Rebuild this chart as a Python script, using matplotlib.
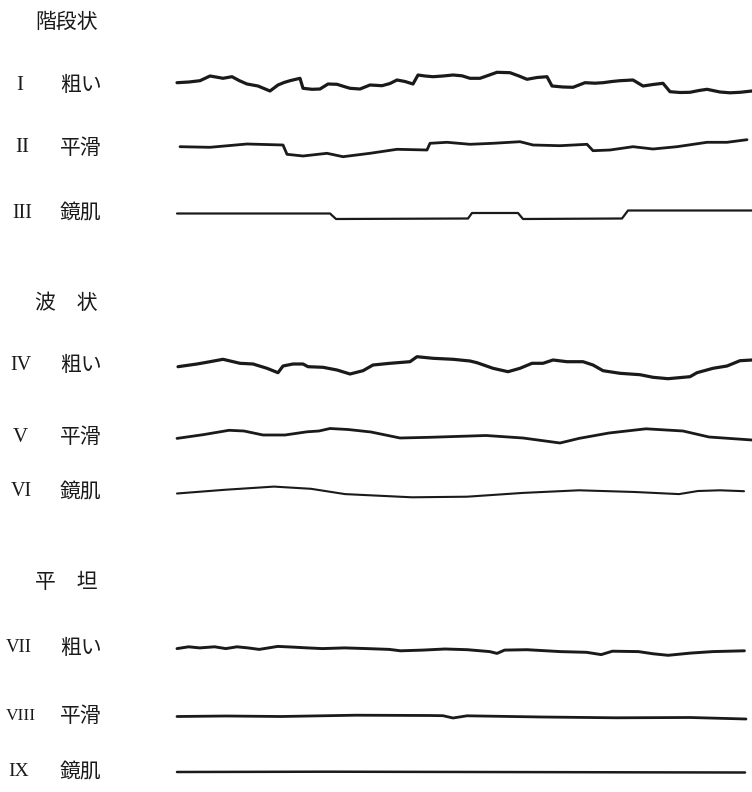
import matplotlib
matplotlib.use("Agg")
import matplotlib.pyplot as plt

# ---------------- data ----------------
group_titles = ["階段状", "波　状", "平　坦"]
roman_labels = ["I", "II", "III", "IV", "V", "VI", "VII", "VIII", "IX"]
surface_labels = ["粗い", "平滑", "鏡肌"] * 3

# profile distance along the trace (units) and height (units, up positive)
p1_x = [0, 12, 23, 33, 40, 46, 55, 62, 70, 81, 87, 93, 101, 107, 113, 123, 126, 135, 143, 151, 160, 167, 173, 183,
        193, 205, 213, 220, 228, 236, 241, 248, 256, 266, 276, 285, 293, 303, 311, 320, 333, 342, 350, 360, 370, 375,
        386, 396, 408, 418, 426, 435, 443, 456, 466, 476, 486, 493, 503, 513, 522, 530, 543, 553, 563, 575]
p1_y = [2.3, 3.0, 4.3, 9.0, 7.8, 6.7, 8.3, 4.5, 1.0, -1.0, -3.5, -6.0, 0.0, 2.5, 4.3, 6.7, -3.3, -4.3, -4.0, 1.0,
        0.7, -1.5, -3.3, -4.0, 0.0, -0.7, 1.5, 5.0, 3.5, 1.0, 10.0, 9.0, 8.3, 9.0, 10.0, 9.2, 6.7, 6.7, 9.5, 12.7, 12.3,
        9.0, 5.7, 7.5, 8.3, -1.0, -2.0, -2.3, 2.3, 1.8, 2.3, 3.5, 4.3, 5.0, -1.0, 0.5, 1.7, -6.7, -7.5, -7.3, -5.5,
        -4.3, -7.0, -7.8, -7.3, -6.0]

p2_x = [3, 33, 70, 106, 110, 126, 150, 166, 193, 220, 250, 253, 270, 293, 316, 343, 356, 383, 410, 416, 433, 456,
        476, 500, 530, 550, 570]
p2_y = [1.3, 0.7, 4.0, 3.0, -6.3, -8.0, -5.3, -8.7, -5.3, -1.3, -2.0, 4.7, 5.7, 3.7, 4.7, 6.3, 3.0, 2.3, 3.7, -2.7,
        -2.0, 1.3, -1.0, 1.3, 5.7, 5.7, 8.3]

p3_x = [0, 153, 159, 291, 295, 341, 346, 445, 451, 575]
p3_y = [-0.5, -0.5, -6.0, -5.5, 0.0, 0.0, -6.0, -5.5, 2.5, 2.5]

p4_x = [1, 20, 33, 46, 63, 76, 90, 101, 106, 116, 126, 131, 146, 160, 173, 186, 196, 213, 233, 240, 256, 276, 293,
        300, 316, 331, 343, 355, 366, 376, 390, 406, 416, 426, 443, 463, 476, 491, 513, 520, 536, 550, 563, 575]
p4_y = [-1.7, 1.0, 3.3, 5.7, 1.7, 1.0, -3.3, -7.7, -1.0, 1.0, 1.0, -1.7, -2.3, -5.0, -9.0, -5.7, 0.0, 1.7, 3.3, 8.3,
        6.7, 5.7, 4.0, 2.3, -3.3, -6.7, -3.3, 1.7, 1.7, 5.0, 3.3, 3.3, 0.0, -5.7, -8.3, -9.7, -12.3, -13.7, -11.7,
        -7.7, -3.3, -1.0, 4.3, 5.0]

p5_x = [0, 26, 52, 67, 86, 108, 130, 142, 153, 171, 194, 223, 253, 309, 346, 383, 402, 432, 469, 506, 532, 575]
p5_y = [-1.4, 2.3, 6.7, 6.0, 2.0, 2.0, 5.2, 6.0, 8.5, 7.5, 5.0, -1.0, -0.3, 1.5, -1.0, -6.0, -1.4, 4.0, 8.2, 6.0,
        0.0, -3.0]

p6_x = [0, 49, 97, 134, 168, 235, 290, 346, 402, 458, 502, 521, 543, 567]
p6_y = [-1.5, 2.3, 5.4, 3.2, -2.1, -5.3, -4.7, -0.9, 1.7, 0.0, -2.1, 1.0, 1.7, 0.8]

p7_x = [0, 11.6, 22.7, 37.6, 48.8, 59.9, 71, 82.2, 100.8, 115.7, 130.5, 145.4, 167.7, 190, 212.3, 223.5, 245.8, 268,
        290.4, 312.7, 320, 327.6, 349.9, 383.3, 409.4, 424.2, 435.4, 461.4, 476.3, 491.1, 513.4, 535.8, 567.4]
p7_y = [-0.6, 1.2, 0.1, 1.2, -0.6, 1.2, 0.1, -1.4, 1.6, 0.9, 0.1, -0.6, 0.1, -0.6, -1.4, -2.8, -2.1, -1.0, -1.7,
        -3.6, -5.4, -2.1, -1.7, -3.6, -4.3, -6.6, -3.2, -3.6, -5.8, -7.3, -5.1, -3.6, -2.8]

p8_x = [0, 49, 104, 179, 253, 266, 276, 290, 365, 439, 513, 569]
p8_y = [-0.5, 0.0, -0.5, 0.8, 0.5, 0.3, -2.0, 0.2, -1.0, -1.8, -1.5, -3.0]

p9_x = [0, 150, 300, 450, 568]
p9_y = [0.0, 0.3, 0.0, -0.3, -0.5]

profiles_x = [p1_x, p2_x, p3_x, p4_x, p5_x, p6_x, p7_x, p8_x, p9_x]
profiles_y = [p1_y, p2_y, p3_y, p4_y, p5_y, p6_y, p7_y, p8_y, p9_y]

# ---------------- layout ----------------
W, H = 752, 792
row_y = [85, 148, 213, 365, 437, 492, 648, 716, 772]
title_y = [22, 303, 582]
roman_x = [20, 22, 22, 21, 20, 21, 19, 21, 19]
roman_fs = [15, 15, 14.5, 14.5, 15, 14.5, 13.5, 12.5, 14]
line_w = [2.3, 2.0, 1.6, 2.3, 2.0, 1.5, 2.1, 2.0, 1.8]
x0 = 177
ink = "#1a1a1a"

fig = plt.figure(figsize=(W / 100, H / 100), dpi=100)
ax = fig.add_axes([0, 0, 1, 1])
ax.set_xlim(0, W)
ax.set_ylim(H, 0)
ax.axis("off")

cjk = ["Noto Sans CJK JP", "DejaVu Sans"]
for t, y in zip(group_titles, title_y):
    ax.text(35, y, t, fontsize=15, family=cjk, ha="left", va="center", color=ink)

for i, (r, s) in enumerate(zip(roman_labels, surface_labels)):
    y = row_y[i]
    ax.text(roman_x[i], y, r, fontsize=roman_fs[i], family=["Liberation Serif"], ha="center", va="center",
            color=ink)
    ax.text(60, y, s, fontsize=15, family=cjk, ha="left", va="center", color=ink)
    xs = [x0 + v for v in profiles_x[i]]
    ys = [y - v for v in profiles_y[i]]
    ax.plot(xs, ys, color=ink, lw=line_w[i], solid_capstyle="round", solid_joinstyle="round")

fig.savefig("out.png", dpi=100, facecolor="white")
